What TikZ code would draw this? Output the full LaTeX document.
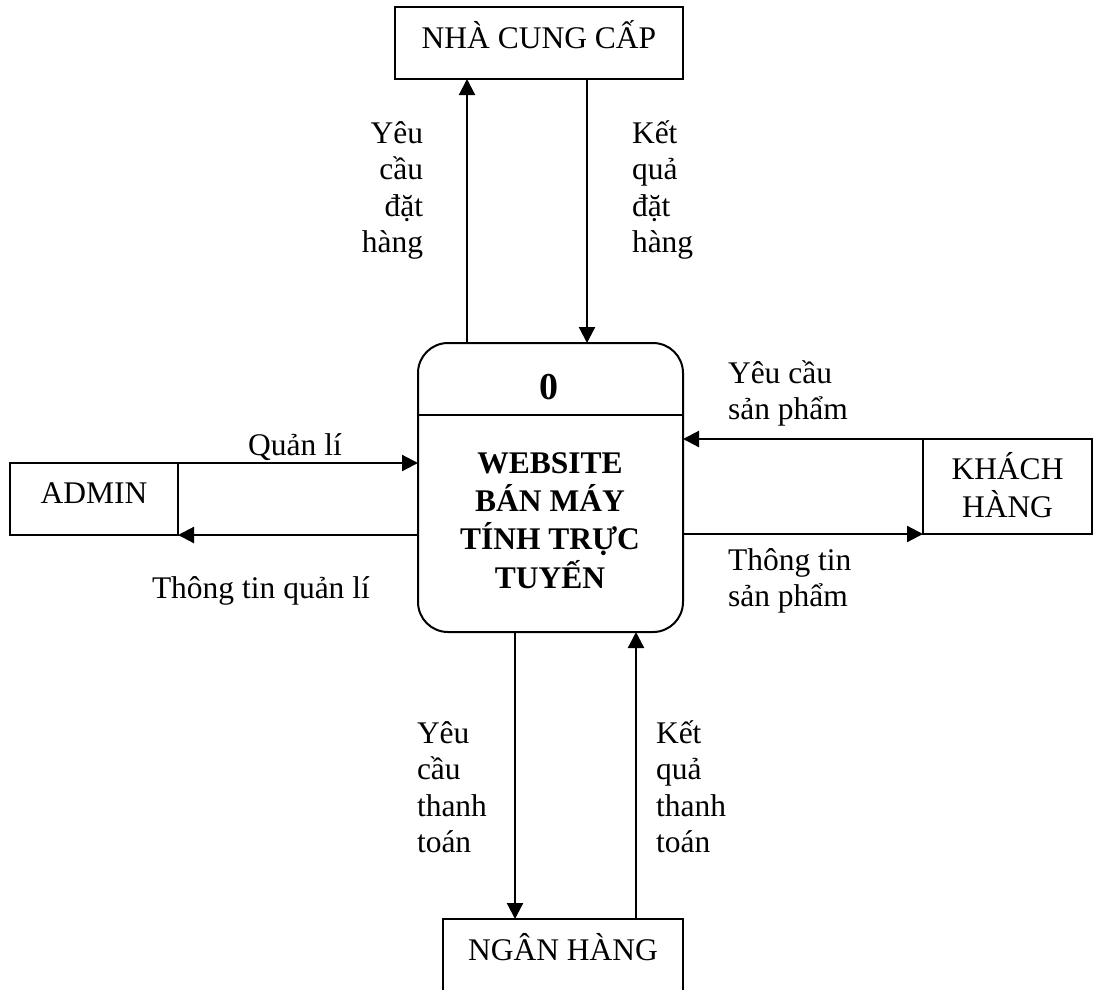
\documentclass[tikz,border=0pt]{standalone}
\usepackage{fontspec}
\setmainfont{Liberation Serif}
\usetikzlibrary{arrows.meta}
\newcommand\flowtext[2]{\begin{tabular}[t]{@{}#1@{}}#2\end{tabular}}
\begin{document}
\begin{tikzpicture}[x=1pt,y=-1pt,
  every node/.style={inner sep=0pt,outer sep=0pt},
  txt/.style={font=\fontsize{31.5}{36.5}\selectfont},
  entity/.style={draw,line width=2pt,txt},
  flow/.style={line width=2.2pt,-{Triangle[length=16pt,width=16pt]}},
  lbl/.style={txt,anchor=base west},
]
\useasboundingbox (0,0) rectangle (1094,989);
\fill[white] (0,0) rectangle (1094,989);
\clip (0,0) rectangle (1094,989);

% external entities and the process
\node[entity,minimum width=288pt,minimum height=72pt] (ncc) at (539,43) {};
\node[entity,minimum width=168pt,minimum height=72pt] (admin) at (94,499) {};
\node[entity,minimum width=169pt,minimum height=95pt] (kh) at (1007.5,486.5) {};
\node[entity,minimum width=240pt,minimum height=80pt] (nh) at (563,959) {};
\node[draw,line width=2pt,rounded corners=30pt,minimum width=265pt,minimum height=289pt] (proc) at (550.5,487.5) {};

% divider of the process box
\coordinate (dv) at (0,415);
\draw[line width=2pt] (proc.west |- dv) -- (proc.east |- dv);

% entity names
\node[txt,anchor=base] (nccT) at (539,48) {NHÀ CUNG CẤP};
\node[txt,anchor=base] (adminT) at (94,503) {ADMIN};
\node[txt,anchor=base] (khT) at (1007.5,479) {\flowtext{c}{KHÁCH\\HÀNG}};
\node[txt,anchor=base] (nhT) at (563,960) {NGÂN HÀNG};
\node[anchor=base,font=\fontsize{38}{40}\selectfont\bfseries] (num) at (548.5,399) {0};
\node[txt,anchor=base,font=\fontsize{31.5}{37}\selectfont\bfseries] (procT) at (550,473)
  {\flowtext{c}{WEBSITE\\BÁN MÁY\\TÍNH TRỰC\\TUYẾN}};

% connector columns
\coordinate (c1) at (467,0);
\coordinate (c2) at (587,0);
\coordinate (c3) at (515,0);
\coordinate (c4) at (636,0);

% flows
\draw[flow] (proc.north -| c1) -- (ncc.south -| c1);
\draw[flow] (ncc.south -| c2) -- (proc.north -| c2);
\draw[flow] (admin.north east) -- (proc.west |- admin.north east);
\draw[flow] (proc.west |- admin.south east) -- (admin.south east);
\draw[flow] (kh.north west) -- (proc.east |- kh.north west);
\draw[flow] (proc.east |- kh.south west) -- (kh.south west);
\draw[flow] (proc.south -| c3) -- (nh.north -| c3);
\draw[flow] (nh.north -| c4) -- (proc.south -| c4);

% flow labels
\node[txt,anchor=base east] (l1) at (423,143) {\flowtext{r}{Yêu\\cầu\\đặt\\hàng}};
\node[lbl] (l2) at (632,143) {\flowtext{l}{Kết\\quả\\đặt\\hàng}};
\node[txt,anchor=base] (l3) at (295,455) {Quản lí};
\node[lbl] (l4) at (152,598) {Thông tin quản lí};
\node[lbl] (l5) at (728,383) {\flowtext{l}{Yêu cầu\\sản phẩm}};
\node[lbl] (l6) at (728,570) {\flowtext{l}{Thông tin\\sản phẩm}};
\node[lbl] (l7) at (417,743) {\flowtext{l}{Yêu\\cầu\\thanh\\toán}};
\node[lbl] (l8) at (656,743) {\flowtext{l}{Kết\\quả\\thanh\\toán}};
\end{tikzpicture}
\end{document}
